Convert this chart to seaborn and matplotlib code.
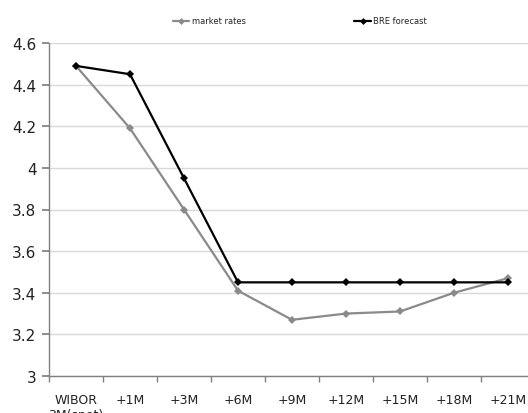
import matplotlib
matplotlib.use("Agg")
import matplotlib.pyplot as plt
import seaborn as sns
import pandas as pd

categories = ["WIBOR\n3M(spot)", "+1M", "+3M", "+6M", "+9M", "+12M", "+15M", "+18M", "+21M"]
market_rates = [4.49, 4.19, 3.80, 3.41, 3.27, 3.30, 3.31, 3.40, 3.47]
bre_forecast = [4.49, 4.45, 3.95, 3.45, 3.45, 3.45, 3.45, 3.45, 3.45]
series_names = ["market rates", "BRE forecast"]
y_ticks = [3, 3.2, 3.4, 3.6, 3.8, 4, 4.2, 4.4, 4.6]
y_tick_labels = ["3", "3.2", "3.4", "3.6", "3.8", "4", "4.2", "4.4", "4.6"]

df = pd.DataFrame({
    "pos": list(range(len(categories))) * 2,
    "value": market_rates + bre_forecast,
    "series": [series_names[0]] * len(categories) + [series_names[1]] * len(categories),
})

sns.set_theme(style="white")
plt.rcParams["font.family"] = ["DejaVu Sans"]

fig = plt.figure(figsize=(5.28, 4.14), dpi=100)
ax = fig.add_axes([49 / 528, 1 - 377 / 414, 486 / 528, 333 / 414])

palette = {series_names[0]: "#8a8a8a", series_names[1]: "#000000"}
sns.lineplot(data=df, x="pos", y="value", hue="series", palette=palette,
             style="series", markers={series_names[0]: "D", series_names[1]: "D"},
             dashes=False, markersize=4.5, linewidth=1.6, ax=ax, legend=False,
             markeredgewidth=0, zorder=3)

ax.set_xlim(-0.5, len(categories) - 0.5)
ax.set_ylim(3, 4.6)
ax.set_yticks(y_ticks)
ax.set_yticklabels(y_tick_labels, fontsize=11, color="#222222")
ax.set_xticks(range(len(categories)))
ax.set_xticklabels(categories, fontsize=9, color="#222222", va="top")
ax.tick_params(axis="x", length=0, pad=12)
ax.set_xticks([i - 0.5 for i in range(len(categories) + 1)], minor=True)
ax.tick_params(axis="x", which="minor", length=4, color="#808080", direction="out", bottom=True)
ax.tick_params(axis="y", length=5, color="#808080", direction="out", left=True, pad=4)
ax.set_xlabel("")
ax.set_ylabel("")

ax.yaxis.grid(True, color="#d9d9d9", linewidth=1)
ax.set_axisbelow(True)
for side in ["top", "right"]:
    ax.spines[side].set_visible(False)
for side in ["left", "bottom"]:
    ax.spines[side].set_color("#808080")
    ax.spines[side].set_linewidth(1)

from matplotlib.lines import Line2D
handles = [Line2D([], [], color=palette[n], marker="D", markersize=3.5,
                  markeredgewidth=0, linewidth=1.6) for n in series_names]
fig.legend(handles, series_names, loc="center", bbox_to_anchor=(300 / 528, 1 - 22 / 414),
           ncol=2, frameon=False, fontsize=6, handlelength=2.0, handletextpad=0.3,
           columnspacing=13)

fig.savefig("out.png", dpi=100)
